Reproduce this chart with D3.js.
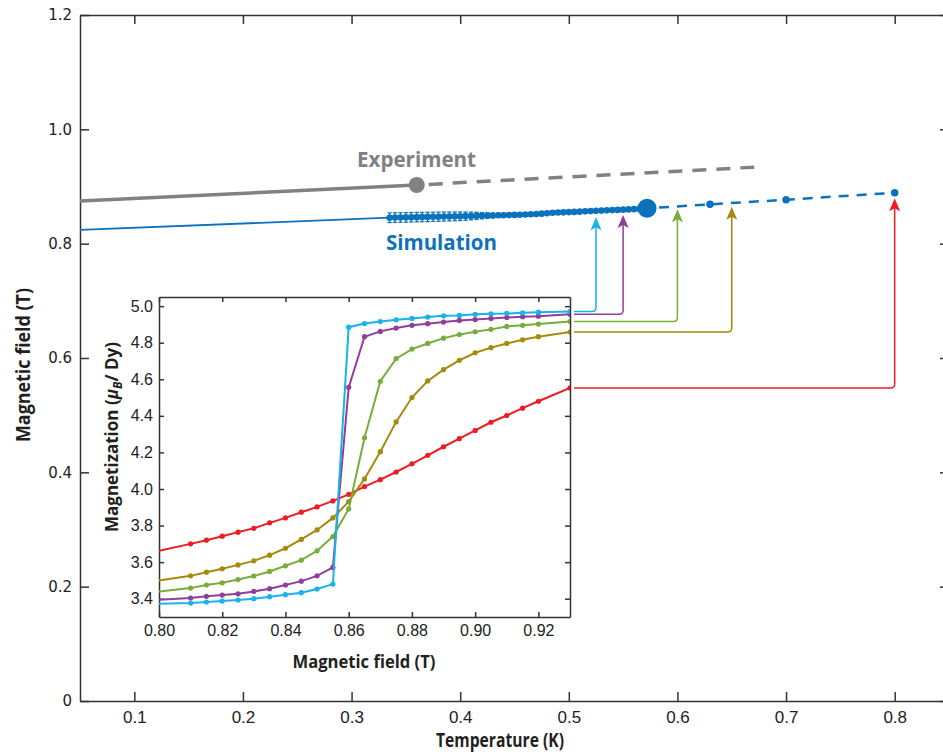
<!DOCTYPE html>
<html>
<head>
<meta charset="utf-8">
<script src="https://cdn.jsdelivr.net/npm/d3@7/dist/d3.min.js"></script>
<style>
  body { margin: 0; background: #fff; }
  text { font-family: "Liberation Sans", Arial, sans-serif; }
</style>
</head>
<body>
<svg id="chart" width="943" height="755"></svg>
<script>
// ---- main plot data (temperature in K, field in T) ----
var tempTicks = [0.1, 0.2, 0.3, 0.4, 0.5, 0.6, 0.7, 0.8];
var fieldTicks = [0, 0.2, 0.4, 0.6, 0.8, 1.0, 1.2];

var expT = [0.05, 0.36, 0.672];
var expB = [0.8746, 0.9026, 0.934];

var simLowT = [0.05, 0.335];
var simLowB = [0.824, 0.8454];

var simT = [0.335, 0.34, 0.345, 0.35, 0.355, 0.36, 0.365, 0.37, 0.375, 0.38, 0.385, 0.39,
  0.395, 0.40, 0.405, 0.41, 0.415, 0.42, 0.425, 0.43, 0.435, 0.44, 0.445, 0.45, 0.455,
  0.46, 0.465, 0.47, 0.475, 0.48, 0.485, 0.49, 0.495, 0.50, 0.505, 0.51, 0.515, 0.52,
  0.525, 0.53, 0.535, 0.54, 0.545, 0.55, 0.555, 0.56, 0.565];
var simB = [0.8454, 0.8456, 0.8458, 0.8460, 0.8462, 0.8464, 0.8466, 0.8468, 0.8470, 0.8472,
  0.8474, 0.8476, 0.8478, 0.8480, 0.8482, 0.8484, 0.8487, 0.8489, 0.8491, 0.8494, 0.8496,
  0.8498, 0.8500, 0.8503, 0.8507, 0.8511, 0.8515, 0.8520, 0.8525, 0.8533, 0.8540, 0.8545,
  0.8548, 0.8552, 0.8556, 0.8560, 0.8565, 0.8570, 0.8574, 0.8578, 0.8583, 0.8587, 0.8591,
  0.8595, 0.8599, 0.8604, 0.8608];
var simErr = [0.0085, 0.0085, 0.0084, 0.0084, 0.0083, 0.0083, 0.0082, 0.0082, 0.0081, 0.0080,
  0.0079, 0.0078, 0.0077, 0.0075, 0.0072, 0.0068, 0.0062, 0.0055, 0.0048, 0.0042, 0.0036,
  0.0030, 0.0026, 0.0022, 0.0020, 0.0018, 0.0016, 0.0015, 0.0014, 0.0013, 0.0012, 0.0012,
  0.0011, 0.0011, 0.0010, 0.0010, 0.0010, 0.0009, 0.0009, 0.0009, 0.0008, 0.0008, 0.0008,
  0.0008, 0.0007, 0.0007, 0.0007];

var simCritT = 0.572, simCritB = 0.8618;
var simHighT = [0.572, 0.63, 0.70, 0.80];
var simHighB = [0.8618, 0.8688, 0.8769, 0.8891];

// ---- inset data (field in T, magnetization in muB/Dy) ----
var insetField = [0.80, 0.81, 0.815, 0.82, 0.825, 0.83, 0.835, 0.84, 0.845, 0.85, 0.855,
  0.86, 0.865, 0.87, 0.875, 0.88, 0.885, 0.89, 0.895, 0.90, 0.905, 0.91, 0.915, 0.92, 0.93];
var insetXTicks = [0.80, 0.82, 0.84, 0.86, 0.88, 0.90, 0.92];
var insetYTicks = [3.4, 3.6, 3.8, 4.0, 4.2, 4.4, 4.6, 4.8, 5.0];

var magRed = [3.662, 3.700, 3.720, 3.742, 3.764, 3.785, 3.815, 3.842, 3.873, 3.902, 3.935,
  3.971, 4.013, 4.051, 4.093, 4.138, 4.184, 4.231, 4.275, 4.320, 4.365, 4.402, 4.442, 4.480, 4.553];
var magOlive = [3.500, 3.525, 3.545, 3.564, 3.585, 3.607, 3.638, 3.676, 3.724, 3.776, 3.842,
  3.931, 4.055, 4.204, 4.367, 4.500, 4.591, 4.653, 4.704, 4.745, 4.773, 4.796, 4.816, 4.833, 4.858];
var magGreen = [3.440, 3.458, 3.475, 3.487, 3.505, 3.524, 3.549, 3.580, 3.611, 3.662, 3.740,
  3.891, 4.280, 4.589, 4.713, 4.765, 4.796, 4.825, 4.845, 4.860, 4.873, 4.889, 4.895, 4.902, 4.916];
var magPurple = [3.395, 3.404, 3.413, 3.420, 3.427, 3.440, 3.455, 3.475, 3.496, 3.525, 3.571,
  4.556, 4.833, 4.862, 4.880, 4.895, 4.904, 4.913, 4.922, 4.927, 4.933, 4.938, 4.942, 4.945, 4.955];
var magCyan = [3.373, 3.376, 3.382, 3.387, 3.393, 3.400, 3.411, 3.422, 3.433, 3.453, 3.480,
  4.885, 4.905, 4.916, 4.925, 4.933, 4.940, 4.947, 4.949, 4.955, 4.958, 4.960, 4.964, 4.967, 4.971];

// draw order back to front, and where each curve points on the main plot
var curveColors = ["#ed1c24", "#a68a0a", "#77ad3b", "#8f3f99", "#19b2ea"];
var curveMags = [magRed, magOlive, magGreen, magPurple, magCyan];
var arrowT = [0.80, 0.65, 0.60, 0.55, 0.525];
var arrowToB = [0.8793, 0.8646, 0.8600, 0.8500, 0.8460];

var gray = "#808184", blue = "#0b72bb", axisCol = "#333";

var svg = d3.select("#chart");

var x = d3.scaleLinear().domain([0.05, 0.85]).range([80, 949]);
var y = d3.scaleLinear().domain([0, 1.2]).range([701, 15]);

function styleAxis(g) {
  g.selectAll("path, line").attr("stroke", axisCol).attr("stroke-width", 1.5);
}

var fmtMainY = function(d) { return d === 0 ? "0" : d3.format(".1f")(d); };

svg.append("g").attr("transform", "translate(0,701)")
  .call(d3.axisBottom(x).tickValues(tempTicks).tickSizeInner(-9).tickSizeOuter(0).tickPadding(10).tickFormat(d3.format(".1f")))
  .call(styleAxis)
  .selectAll("text").attr("fill", "#222")
  .style("font-family", "'Liberation Sans Narrow', 'Liberation Sans', sans-serif").style("font-size", "17px");
svg.append("g").attr("transform", "translate(0,15)")
  .call(d3.axisTop(x).tickValues(tempTicks).tickSizeInner(-9).tickSizeOuter(0).tickFormat(""))
  .call(styleAxis);
svg.append("g").attr("transform", "translate(80,0)")
  .call(d3.axisLeft(y).tickValues(fieldTicks).tickSizeInner(-9).tickSizeOuter(0).tickPadding(8).tickFormat(fmtMainY))
  .call(styleAxis)
  .selectAll("text").attr("fill", "#222")
  .style("font-family", "'DejaVu Sans', sans-serif").style("font-size", "15px");
svg.append("g").attr("transform", "translate(949,0)")
  .call(d3.axisRight(y).tickValues(fieldTicks).tickSizeInner(-9).tickSizeOuter(0).tickFormat(""))
  .call(styleAxis);

// experiment
var line = d3.line().x(function(d) { return x(d[0]); }).y(function(d) { return y(d[1]); });
var exp = d3.zip(expT, expB);
svg.append("path").attr("d", line(exp.slice(0, 2)))
  .attr("fill", "none").attr("stroke", gray).attr("stroke-width", 3.5);
svg.append("path").attr("d", line(exp.slice(1)))
  .attr("fill", "none").attr("stroke", gray).attr("stroke-width", 3.5)
  .attr("stroke-dasharray", "14,10").attr("stroke-dashoffset", -12);
svg.append("circle").attr("cx", x(expT[1])).attr("cy", y(expB[1])).attr("r", 8).attr("fill", gray);

// simulation
svg.append("path").attr("d", line(d3.zip(simLowT, simLowB)))
  .attr("fill", "none").attr("stroke", blue).attr("stroke-width", 1.8);
svg.append("path").attr("d", line(d3.zip(simHighT, simHighB)))
  .attr("fill", "none").attr("stroke", blue).attr("stroke-width", 2.5)
  .attr("stroke-dasharray", "10,8").attr("stroke-dashoffset", -12);
svg.append("path").attr("d", line(d3.zip(simT, simB).concat([[simCritT, simCritB]])))
  .attr("fill", "none").attr("stroke", blue).attr("stroke-width", 2);

var errG = svg.append("g").attr("stroke", blue).attr("stroke-width", 1.2);
simT.forEach(function(t, i) {
  var cx = x(t), y0 = y(simB[i] - simErr[i]), y1 = y(simB[i] + simErr[i]);
  errG.append("line").attr("x1", cx).attr("x2", cx).attr("y1", y0).attr("y2", y1);
  errG.append("line").attr("x1", cx - 2.2).attr("x2", cx + 2.2).attr("y1", y0).attr("y2", y0);
  errG.append("line").attr("x1", cx - 2.2).attr("x2", cx + 2.2).attr("y1", y1).attr("y2", y1);
});
svg.append("g").selectAll("circle").data(d3.zip(simT, simB)).join("circle")
  .attr("cx", function(d) { return x(d[0]); }).attr("cy", function(d) { return y(d[1]); })
  .attr("r", 3.3).attr("fill", blue);
svg.append("g").selectAll("circle").data(d3.zip(simHighT.slice(1), simHighB.slice(1))).join("circle")
  .attr("cx", function(d) { return x(d[0]); }).attr("cy", function(d) { return y(d[1]); })
  .attr("r", 3.8).attr("fill", blue);
svg.append("circle").attr("cx", x(simCritT)).attr("cy", y(simCritB)).attr("r", 9.5).attr("fill", blue);

svg.append("text").attr("x", 476).attr("y", 167).attr("text-anchor", "end")
  .attr("textLength", 119).attr("lengthAdjust", "spacingAndGlyphs")
  .style("font-family", "'Open Sans', sans-serif").style("font-weight", 700).style("font-size", "21px")
  .attr("fill", gray).text("Experiment");
svg.append("text").attr("x", 386).attr("y", 250)
  .attr("textLength", 111).attr("lengthAdjust", "spacingAndGlyphs")
  .style("font-family", "'Open Sans', sans-serif").style("font-weight", 700).style("font-size", "21px")
  .attr("fill", blue).text("Simulation");

// axis titles
svg.append("text").attr("x", 500).attr("y", 747).attr("text-anchor", "middle")
  .attr("textLength", 128).attr("lengthAdjust", "spacingAndGlyphs")
  .style("font-family", "'Open Sans', sans-serif").style("font-weight", 700).style("font-size", "19px")
  .attr("fill", "#231f20").text("Temperature (K)");
svg.append("text").attr("transform", "translate(30,365) rotate(-90)").attr("text-anchor", "middle")
  .attr("textLength", 154).attr("lengthAdjust", "spacingAndGlyphs")
  .style("font-family", "'Open Sans', sans-serif").style("font-weight", 700).style("font-size", "20px")
  .attr("fill", "#231f20").text("Magnetic field (T)");

// ---- inset ----
var xi = d3.scaleLinear().domain([0.80, 0.93]).range([159, 570]);
var yi = d3.scaleLinear().domain([3.3, 5.05]).range([617, 297]);

var inset = svg.append("g");
inset.append("rect").attr("x", 159).attr("y", 297).attr("width", 411).attr("height", 320).attr("fill", "#fff");
inset.append("clipPath").attr("id", "insetClip")
  .append("rect").attr("x", 159).attr("y", 297).attr("width", 411).attr("height", 320);

inset.append("g").attr("transform", "translate(0,617)")
  .call(d3.axisBottom(xi).tickValues(insetXTicks).tickSizeInner(-5).tickSizeOuter(0).tickPadding(8).tickFormat(d3.format(".2f")))
  .call(styleAxis)
  .selectAll("text").attr("fill", "#222").style("font-size", "16px");
inset.append("g").attr("transform", "translate(0,297)")
  .call(d3.axisTop(xi).tickValues(insetXTicks).tickSizeInner(-5).tickSizeOuter(0).tickFormat(""))
  .call(styleAxis);
inset.append("g").attr("transform", "translate(159,0)")
  .call(d3.axisLeft(yi).tickValues(insetYTicks).tickSizeInner(-5).tickSizeOuter(0).tickPadding(6).tickFormat(d3.format(".1f")))
  .call(styleAxis)
  .selectAll("text").attr("fill", "#222")
  .style("font-family", "'Liberation Sans Narrow', 'Liberation Sans', sans-serif").style("font-size", "16px");
inset.append("g").attr("transform", "translate(570,0)")
  .call(d3.axisRight(yi).tickValues(insetYTicks).tickSizeInner(-5).tickSizeOuter(0).tickFormat(""))
  .call(styleAxis);

var curves = inset.append("g").attr("clip-path", "url(#insetClip)");
var iline = d3.line().x(function(d) { return xi(d[0]); }).y(function(d) { return yi(d[1]); });
curveMags.forEach(function(mag, k) {
  var pts = d3.zip(insetField, mag);
  curves.append("path").attr("d", iline(pts)).attr("fill", "none")
    .attr("stroke", curveColors[k]).attr("stroke-width", 2);
  curves.append("g").selectAll("circle").data(pts.slice(1)).join("circle")
    .attr("cx", function(d) { return xi(d[0]); }).attr("cy", function(d) { return yi(d[1]); })
    .attr("r", 2.6).attr("fill", curveColors[k]);
});

inset.append("text").attr("x", 364).attr("y", 668).attr("text-anchor", "middle")
  .attr("textLength", 143).attr("lengthAdjust", "spacingAndGlyphs")
  .style("font-family", "'Open Sans', sans-serif").style("font-weight", 700).style("font-size", "17px")
  .attr("fill", "#231f20").text("Magnetic field (T)");
var ylab = inset.append("text").attr("transform", "translate(118,437) rotate(-90)").attr("text-anchor", "middle")
  .style("font-family", "'Open Sans', sans-serif").style("font-weight", 700).style("font-size", "17px")
  .attr("fill", "#231f20");
ylab.append("tspan").text("Magnetization (");
ylab.append("tspan").style("font-style", "italic").text("\u03bc");
ylab.append("tspan").style("font-style", "italic").style("font-size", "12px").attr("dy", 4).text("B");
ylab.append("tspan").attr("dy", -4).text("/ Dy)");

// ---- leaders from the inset curves up to the phase line ----
var lastIdx = insetField.length - 1;
curveMags.forEach(function(mag, k) {
  var col = curveColors[k];
  var ly = yi(mag[lastIdx]), ax = x(arrowT[k]), tipY = y(arrowToB[k]), r = 4;
  svg.append("path")
    .attr("d", "M574," + ly + "H" + (ax - r) + "Q" + ax + "," + ly + " " + ax + "," + (ly - r) + "V" + (tipY + 9))
    .attr("fill", "none").attr("stroke", col).attr("stroke-width", 1.5);
  svg.append("path")
    .attr("d", "M" + ax + "," + tipY + "L" + (ax + 5.5) + "," + (tipY + 13) + "L" + ax + "," + (tipY + 10) +
      "L" + (ax - 5.5) + "," + (tipY + 13) + "Z")
    .attr("fill", col);
});
</script>
</body>
</html>
